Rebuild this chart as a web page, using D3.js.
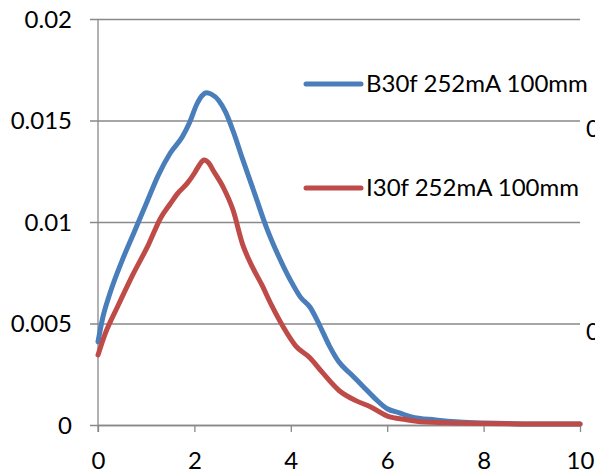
<!DOCTYPE html>
<html lang="en">
<head>
    <meta charset="UTF-8">
    <title>B30f vs I30f, 252mA 100mm</title>
<script src="https://d3js.org/d3.v7.min.js"></script>
    <style>
        body{
            margin: 0;
            background: #fff;
            font-family: Lato, "Open Sans", sans-serif;
        }
        text{
            fill: #000;
        }
    </style>
</head>
<body>
<svg width="595" height="474" id="canvas"></svg>
<script>

    // data
    let blue_x = [0, 0.1, 0.25, 0.5, 0.75, 1.0, 1.25, 1.5, 1.75, 1.9, 2.05, 2.15, 2.25, 2.35, 2.5, 2.65, 2.8, 3.0, 3.25, 3.5,
                  3.75, 4.0, 4.2, 4.4, 4.6, 4.8, 5.0, 5.25, 5.5, 5.75, 6.0, 6.25, 6.5, 7.0, 7.5, 8.0, 8.5, 9.0, 9.5, 10];
    let blue_y = [0.0041, 0.0053, 0.0065, 0.0081, 0.0095, 0.0109, 0.0123, 0.0134, 0.0142, 0.0149, 0.0158, 0.0162, 0.01637, 0.0163, 0.0160, 0.0154, 0.0145, 0.0131, 0.0114, 0.0097,
                  0.0083, 0.0071, 0.0063, 0.0058, 0.0049, 0.0039, 0.0031, 0.0025, 0.0019, 0.0013, 0.0008, 0.0006, 0.0004, 0.00025, 0.00015, 0.0001, 0.00007, 0.00005, 0.00005, 0.00005];

    let red_x = [0, 0.15, 0.4, 0.7, 1.05, 1.3, 1.5, 1.65, 1.85, 2.0, 2.1, 2.2, 2.3, 2.4, 2.6, 2.8, 3.0, 3.2, 3.4, 3.6,
                 3.85, 4.1, 4.4, 4.65, 5.0, 5.35, 5.65, 6.05, 6.3, 6.7, 7.4, 8.0, 9.0, 10];
    let red_y = [0.00345, 0.0045, 0.0058, 0.0073, 0.0089, 0.0102, 0.0109, 0.0114, 0.0119, 0.0124, 0.0128, 0.01305, 0.0129, 0.0125, 0.0117, 0.0106, 0.0089, 0.0078, 0.0069, 0.0059,
                 0.0048, 0.0039, 0.0033, 0.0026, 0.0017, 0.0012, 0.0009, 0.0004, 0.0003, 0.00016, 0.0001, 0.00007, 0.00005, 0.00005];

    let series_names = ["B30f 252mA 100mm", "I30f 252mA 100mm"];
    let series_colors = ["#4a7ebb", "#be4b48"];
    let x_ticks = [0, 2, 4, 6, 8, 10];
    let y_ticks = [0, 0.005, 0.01, 0.015, 0.02];

    let svg = d3.select("svg");

    const plot_left = 98, plot_right = 580, plot_top = 19, plot_bottom = 425;
    const grid_color = "#898989";
    const font_size = "24px";

    let xScale = d3.scaleLinear().domain([0, 10]).range([plot_left, plot_right]);
    let yScale = d3.scaleLinear().domain([0, 0.02]).range([plot_bottom, plot_top]);

    // horizontal gridlines + left ticks
    let y_axis = d3.axisLeft(yScale)
        .tickValues(y_ticks)
        .tickSize(-(plot_right - plot_left))
        .tickFormat(d => d === 0 ? "0" : String(+d.toFixed(3)));
    let yg = svg.append("g").attr("transform", `translate(${plot_left},0)`).call(y_axis);
    yg.select(".domain").remove();
    yg.selectAll(".tick line").attr("stroke", grid_color).attr("stroke-width", 1.3).attr("x1", -8);
    yg.selectAll(".tick text")
        .attr("x", -26)
        .attr("dy", "0.35em")
        .style("font-size", font_size)
        .style("font-family", "Lato, sans-serif");

    // x axis (ticks pointing down)
    let x_axis = d3.axisBottom(xScale).tickValues(x_ticks).tickSize(7).tickSizeOuter(0);
    let xg = svg.append("g").attr("transform", `translate(0,${plot_bottom})`).call(x_axis);
    xg.select(".domain").attr("stroke", grid_color).attr("stroke-width", 1.3);
    xg.selectAll(".tick line").attr("stroke", grid_color).attr("stroke-width", 1.3);
    xg.selectAll(".tick text")
        .attr("y", 44)
        .attr("dy", "0")
        .style("font-size", font_size)
        .style("font-family", "Lato, sans-serif");

    // vertical axis line
    svg.append("line")
        .attr("x1", plot_left).attr("x2", plot_left)
        .attr("y1", plot_top).attr("y2", plot_bottom + 7)
        .attr("stroke", grid_color).attr("stroke-width", 1.3);

    // labels of a neighbouring axis, cut off by the right edge in the original
    [0.015, 0.005].forEach(function (v) {
        svg.append("text")
            .attr("x", 586)
            .attr("y", yScale(v) + 16)
            .style("font-size", font_size)
            .text("0");
    });

    // curves
    let line = d3.line()
        .x(d => xScale(d[0]))
        .y(d => yScale(d[1]))
        .curve(d3.curveMonotoneX);

    let blue_data = d3.zip(blue_x, blue_y);
    let red_data = d3.zip(red_x, red_y);

    [blue_data, red_data].forEach(function (data, i) {
        svg.append("path")
            .datum(data)
            .attr("fill", "none")
            .attr("stroke", series_colors[i])
            .attr("stroke-width", 5)
            .attr("stroke-linecap", "round")
            .attr("stroke-linejoin", "round")
            .attr("d", line);
    });

    // legend
    let legend_y = [84, 188];
    series_names.forEach(function (name, i) {
        let g = svg.append("g").attr("transform", `translate(306,${legend_y[i]})`);
        g.append("line")
            .attr("x1", 0).attr("x2", 55)
            .attr("stroke", series_colors[i])
            .attr("stroke-width", 5)
            .attr("stroke-linecap", "round");
        g.append("text")
            .attr("x", 60)
            .attr("dy", "0.35em")
            .style("font-size", font_size)
            .text(name);
    });

</script>
</body>
</html>
